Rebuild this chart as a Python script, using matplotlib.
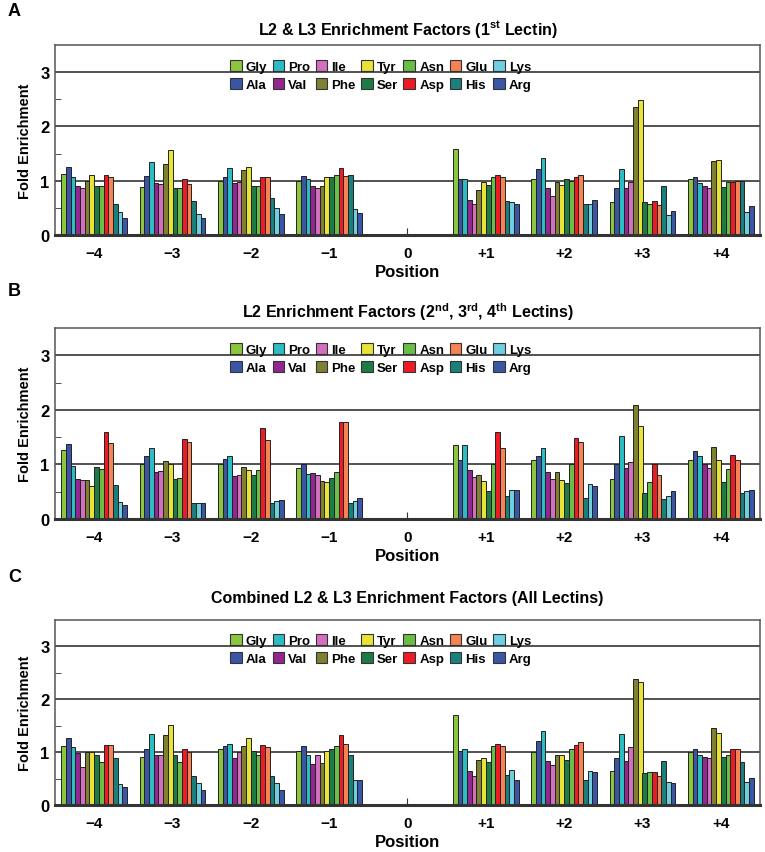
import numpy as np
import matplotlib
matplotlib.use("Agg")
import matplotlib.pyplot as plt
from matplotlib.patches import Patch

plt.rcParams['font.family'] = ['Liberation Sans', 'DejaVu Sans']
plt.rcParams['font.weight'] = 'bold'
plt.rcParams['mathtext.fontset'] = 'custom'
plt.rcParams['mathtext.rm'] = 'Liberation Sans:bold'
plt.rcParams['mathtext.bf'] = 'Liberation Sans:bold'

residues = ['Gly', 'Ala', 'Pro', 'Val', 'Ile', 'Phe', 'Tyr',
            'Ser', 'Asn', 'Asp', 'Glu', 'His', 'Lys', 'Arg']
colors = ['#8cc63f', '#3a55a4', '#2bbcc4', '#93278f', '#d36fbf', '#808033', '#e8e337',
          '#1e7b45', '#6abd45', '#ed1c24', '#f58354', '#1b7f7c', '#6dcfe0', '#3b56a5']
positions = [-4, -3, -2, -1, 1, 2, 3, 4]
tick_pos = [-4, -3, -2, -1, 0, 1, 2, 3, 4]
tick_labels = ['\u22124', '\u22123', '\u22122', '\u22121', '0', '+1', '+2', '+3', '+4']

# rows = positions (-4..-1, +1..+4), columns = residues in the order above
lectin1 = [
    [1.12, 1.25, 1.06, 0.90, 0.86, 1.00, 1.10, 0.90, 0.90, 1.10, 1.06, 0.58, 0.43, 0.31],
    [0.88, 1.09, 1.35, 0.96, 0.94, 1.30, 1.57, 0.86, 0.86, 1.04, 0.94, 0.63, 0.39, 0.31],
    [1.00, 1.06, 1.24, 0.96, 0.98, 1.20, 1.26, 0.90, 0.90, 1.06, 1.06, 0.69, 0.49, 0.39],
    [1.00, 1.09, 1.04, 0.91, 0.87, 0.91, 1.06, 1.06, 1.11, 1.24, 1.09, 1.11, 0.48, 0.41],
    [1.59, 1.04, 1.04, 0.65, 0.58, 0.83, 0.98, 0.93, 1.06, 1.11, 1.06, 0.63, 0.60, 0.58],
    [1.03, 1.22, 1.42, 0.86, 0.71, 0.97, 0.93, 1.04, 1.00, 1.06, 1.11, 0.58, 0.58, 0.65],
    [0.60, 0.86, 1.22, 0.86, 0.98, 2.36, 2.48, 0.60, 0.58, 0.63, 0.55, 0.90, 0.37, 0.45],
    [1.03, 1.06, 0.96, 0.91, 0.86, 1.37, 1.39, 0.88, 0.97, 0.97, 1.00, 1.00, 0.42, 0.53],
]
lectins234 = [
    [1.26, 1.37, 0.97, 0.73, 0.71, 0.71, 0.61, 0.96, 0.92, 1.60, 1.39, 0.63, 0.31, 0.26],
    [1.00, 1.15, 1.30, 0.86, 0.88, 1.07, 1.00, 0.73, 0.76, 1.47, 1.42, 0.29, 0.30, 0.29],
    [1.00, 1.10, 1.16, 0.78, 0.80, 0.96, 0.89, 0.81, 0.89, 1.67, 1.45, 0.29, 0.33, 0.35],
    [0.94, 1.00, 0.83, 0.85, 0.80, 0.69, 0.67, 0.76, 0.86, 1.77, 1.77, 0.30, 0.33, 0.38],
    [1.35, 1.09, 1.35, 0.89, 0.77, 0.80, 0.69, 0.51, 1.00, 1.59, 1.30, 0.42, 0.54, 0.54],
    [1.09, 1.15, 1.30, 0.86, 0.74, 0.86, 0.72, 0.66, 1.00, 1.49, 1.42, 0.39, 0.64, 0.61],
    [0.73, 1.00, 1.52, 0.94, 1.04, 2.08, 1.70, 0.47, 0.67, 1.00, 0.80, 0.36, 0.42, 0.51],
    [1.09, 1.25, 1.15, 1.00, 0.94, 1.32, 1.09, 0.67, 0.91, 1.17, 1.09, 0.47, 0.51, 0.54],
]
combined = [
    [1.11, 1.27, 1.09, 0.99, 0.72, 1.00, 1.00, 0.94, 0.82, 1.13, 1.13, 0.88, 0.39, 0.34],
    [0.91, 1.06, 1.35, 0.94, 0.94, 1.32, 1.52, 0.94, 0.82, 1.06, 1.00, 0.54, 0.41, 0.28],
    [1.06, 1.11, 1.16, 0.88, 1.00, 1.11, 1.27, 1.03, 0.94, 1.13, 1.09, 0.54, 0.41, 0.28],
    [1.03, 1.11, 0.94, 0.78, 0.94, 0.80, 1.03, 1.06, 1.11, 1.32, 1.16, 0.94, 0.47, 0.47],
    [1.70, 1.03, 1.06, 0.65, 0.54, 0.86, 0.88, 0.81, 1.11, 1.16, 1.11, 0.57, 0.67, 0.47],
    [1.00, 1.21, 1.40, 0.83, 0.75, 0.94, 0.94, 0.86, 1.06, 1.13, 1.19, 0.47, 0.65, 0.62],
    [0.65, 0.88, 1.35, 0.83, 1.09, 2.38, 2.33, 0.60, 0.62, 0.62, 0.54, 0.83, 0.44, 0.42],
    [1.00, 1.06, 0.94, 0.91, 0.88, 1.45, 1.37, 0.91, 0.94, 1.06, 1.06, 0.81, 0.44, 0.52],
]

panels = [
    ('A', 'L2 & L3 Enrichment Factors (1$^{\\mathbf{st}}$ Lectin)', lectin1),
    ('B', 'L2 Enrichment Factors (2$^{\\mathbf{nd}}$, 3$^{\\mathbf{rd}}$, 4$^{\\mathbf{th}}$ Lectins)', lectins234),
    ('C', 'Combined L2 & L3 Enrichment Factors (All Lectins)', combined),
]

W, H = 765, 853
fig = plt.figure(figsize=(W / 100, H / 100), dpi=100)

# axes boxes in pixels: (top, bottom)
boxes = [(46, 236), (329, 520), (621, 806)]
label_y = [12, 292, 578]
title_y = [30, 312, 599]
left, right = 55, 760

bw = 0.06
for (plabel, title, vals), (top, bot), ly, ty in zip(panels, boxes, label_y, title_y):
    ax = fig.add_axes([left / W, 1 - bot / H, (right - left) / W, (bot - top) / H])
    vals = np.array(vals)
    for y in [1, 2, 3]:
        ax.axhline(y, color='#333333', lw=1.2, zorder=1)
    for i, res in enumerate(residues):
        xs = np.array(positions) + (i - 6.5) * bw
        ax.bar(xs, vals[:, i], width=bw, color=colors[i], edgecolor='#222222',
               linewidth=0.7, zorder=2, label=res)
    ax.set_xlim(-4.5, 4.5)
    ax.set_ylim(0, 3.5)
    ax.set_xticks(tick_pos)
    ax.set_xticklabels(tick_labels, fontsize=11, fontweight='bold')
    ax.set_yticks([0, 1, 2, 3])
    ax.set_yticklabels(['0', '1', '2', '3'], fontsize=12, fontweight='bold')
    ax.set_yticks([0.5, 1.5, 2.5], minor=True)
    ax.tick_params(axis='both', which='both', direction='in', color='#333333')
    ax.tick_params(axis='y', which='major', length=0, pad=4)
    ax.tick_params(axis='y', which='minor', length=4)
    ax.tick_params(axis='x', length=5, pad=8)
    ax.spines['bottom'].set_linewidth(2.2)
    ax.spines['bottom'].set_color('#333333')
    for s in ['top', 'right', 'left']:
        ax.spines[s].set_linewidth(1.1)
        ax.spines[s].set_color('#555555')
    ax.set_xlabel('Position', fontsize=12, fontweight='bold', labelpad=3)
    ax.set_ylabel('Fold Enrichment', fontsize=10.5, fontweight='bold', labelpad=6)

    handles = [Patch(facecolor=c, edgecolor='#333333', linewidth=0.8) for c in colors]
    ax.legend(handles, residues, ncol=7, loc='center', bbox_to_anchor=(0.462, 0.84),
              frameon=False, handlelength=0.9, handleheight=0.9,
              handletextpad=0.3, columnspacing=0.4, labelspacing=0.35,
              prop={'weight': 'bold', 'size': 9.5})

    fig.text(8 / W, 1 - ly / H, plabel, fontsize=13, fontweight='bold',
             ha='left', va='center')
    fig.text((left + right) / 2 / W, 1 - ty / H, title, fontsize=11.5,
             fontweight='bold', ha='center', va='center')

fig.savefig('out.png', dpi=100)
